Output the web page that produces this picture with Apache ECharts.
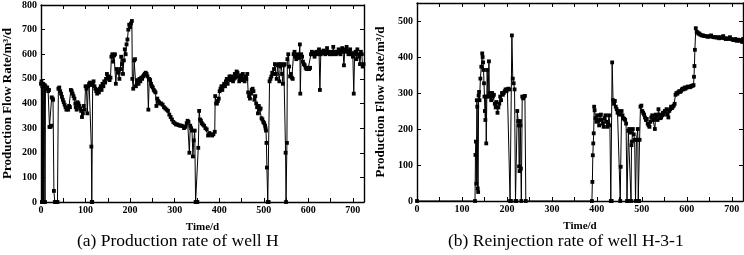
<!DOCTYPE html>
<html>
<head>
<meta charset="utf-8">
<script src="https://cdn.jsdelivr.net/npm/echarts@6/dist/echarts.min.js"></script>
<style>
html,body{margin:0;padding:0;background:#fff;}
#c{width:744px;height:255px;}
</style>
</head>
<body>
<div id="c"></div>
<script>
// ---- Data: (a) Production rate of well H ----
const daysA = [0,1,2,3,4,5,6,8,9,10,12,14,16,18,19,21,23,24,26,27,29,31,33,35,37,39,41,43,45,47,49,51,53,55,57,59,61,63,65,67,69,71,73,75,77,78,80,82,84,86,88,90,92,94,96,98,100,102,104,106,108,110,112,113,114,115,116,118,120,122,124,126,128,130,132,134,136,138,140,142,144,146,148,150,152,154,156,158,160,162,164,166,168,170,172,174,176,178,180,182,184,186,188,190,192,194,196,198,200,202,204,205,207,209,211,213,215,217,219,221,223,225,227,229,231,233,235,237,239,241,243,245,247,249,251,253,255,257,259,261,263,265,267,270,273,276,279,282,285,288,291,294,297,300,303,306,309,312,315,318,321,324,327,329,331,333,335,337,339,341,343,345,347,349,351,353,355,357,359,361,363,366,369,372,375,378,381,384,387,390,391,393,395,397,399,401,403,405,407,409,411,413,415,417,419,421,423,425,427,429,431,433,435,437,439,441,443,445,447,449,451,453,455,457,459,461,463,465,467,469,471,473,475,477,479,481,483,485,487,489,491,493,495,497,499,501,503,504,505,506,507,509,511,513,515,517,519,521,523,525,527,529,531,533,535,537,539,541,543,545,547,549,550,552,553,555,557,559,561,563,565,567,569,571,573,575,577,579,581,582,584,586,588,590,592,594,596,598,600,602,604,606,608,610,612,614,616,618,620,622,624,626,628,630,632,634,636,638,640,642,644,646,648,650,652,654,656,658,660,662,664,666,668,670,672,674,676,678,680,682,684,686,688,690,692,694,696,698,700,702,704,706,708,710,712,714,716,718,720,722,724];
const rateA = [480,490,0,470,0,480,0,475,0,470,460,465,450,455,305,305,310,425,420,415,45,0,0,0,0,460,465,450,440,427,415,405,395,385,375,380,375,390,385,455,450,440,430,420,400,385,375,405,400,390,380,370,345,360,390,375,470,460,360,470,480,485,475,225,0,0,480,490,470,460,450,440,455,445,460,470,455,480,470,490,485,500,520,505,510,495,505,590,600,570,595,600,480,540,530,525,500,540,590,560,520,575,620,600,640,660,700,720,710,725,735,500,460,575,580,470,480,495,480,500,490,505,500,510,515,520,525,520,510,375,500,495,480,470,465,455,450,445,390,420,410,405,400,400,395,385,380,375,370,355,345,335,325,320,315,315,312,310,310,308,300,305,320,330,325,200,310,300,290,185,250,290,0,0,0,220,370,335,330,320,315,310,300,295,270,280,275,270,275,285,430,400,400,410,420,450,460,470,455,470,480,470,490,500,480,500,510,495,510,505,490,500,520,505,530,525,510,490,500,515,495,520,500,490,510,500,520,445,430,420,440,455,460,450,415,430,400,385,360,390,375,380,340,335,325,320,310,300,290,240,140,0,0,490,500,510,525,520,540,560,520,500,555,560,490,550,560,520,480,555,560,200,0,240,580,600,550,510,520,505,500,600,610,590,580,600,595,585,640,440,600,590,570,560,555,545,540,540,545,540,545,600,610,600,605,590,605,610,600,610,620,455,600,610,605,615,610,600,605,625,610,605,600,610,605,600,630,610,605,600,610,605,620,610,600,615,625,610,555,620,610,630,615,600,610,620,600,605,590,440,600,610,580,620,600,590,560,610,600,550,560];

// ---- Data: (b) Reinjection rate of well H-3-1 ----
const daysB = [0,129,130,131,132,133,134,135,136,137,138,139,141,143,145,146,147,148,149,150,151,152,153,154,156,158,160,161,163,165,167,169,171,173,175,177,179,181,183,185,187,189,191,193,195,197,199,201,203,205,207,209,211,213,215,217,219,221,223,225,226,227,228,229,230,231,232,234,236,238,240,242,389,390,391,392,393,394,395,397,399,401,403,405,407,409,411,413,415,417,419,421,423,425,427,429,431,433,434,436,438,440,442,444,446,448,450,452,453,455,457,459,461,463,465,467,469,470,472,474,476,477,478,480,482,484,486,488,490,491,492,494,495,497,499,501,503,505,507,509,511,513,515,517,519,521,523,525,527,529,531,533,535,537,539,541,543,545,547,549,551,553,555,557,559,561,563,565,567,569,571,573,575,577,579,581,583,585,587,589,591,593,595,597,599,601,603,605,607,609,611,613,615,616,617,618,620,622,624,626,628,630,633,636,639,642,645,648,651,654,657,660,663,666,669,672,675,678,681,684,687,690,693,696,699,702,705,708,711,714,717,720,723,725];
const rateB = [0,0,128,165,48,280,262,35,25,293,303,280,340,373,410,400,385,364,327,290,250,225,290,160,364,290,388,300,290,280,300,290,295,270,260,275,245,260,270,290,280,300,295,300,305,310,305,310,312,310,0,0,460,340,327,310,0,0,250,222,210,96,83,222,210,90,0,290,285,290,292,0,0,53,127,160,188,262,252,230,220,238,225,210,238,240,225,215,206,230,238,220,206,215,238,210,0,0,385,280,270,278,262,255,245,250,240,0,95,250,238,230,228,225,215,0,0,195,200,190,0,155,165,200,185,170,0,170,170,200,0,0,170,262,265,250,245,240,232,225,228,215,210,206,220,232,238,225,230,200,240,235,225,255,240,230,232,238,245,240,250,248,255,240,232,250,255,262,258,262,265,270,295,300,298,302,305,303,305,310,312,310,315,312,315,316,318,317,316,318,320,320,322,345,375,420,480,470,468,465,465,462,460,460,458,458,457,456,458,460,456,455,455,454,455,452,455,453,458,452,450,452,450,455,450,448,447,450,445,448,445,447,442,450];

const xTicks = ['0','100','200','300','400','500','600','700'];
const captionA = '(a) Production rate of well H';
const captionB = '(b) Reinjection rate of well H-3-1';
const yName = 'Production Flow Rate/m³/d';
const xName = 'Time/d';

const zip = (xs, ys) => xs.map((x, i) => [x, ys[i]]);

const serif = '"Liberation Serif", "Times New Roman", serif';
const chart = echarts.init(document.getElementById('c'), null, {renderer: 'canvas'});

const lineStyleAx = {color: '#000', width: 1.4};
function xAxes(gi) {
  const base = {
    type: 'value', gridIndex: gi, min: 0, max: 725, interval: 100,
    axisLine: {show: true, onZero: false, lineStyle: lineStyleAx},
    axisTick: {show: true, inside: true, length: 4, lineStyle: {color: '#000', width: 1}},
    minorTick: {show: true, splitNumber: 2, length: 4, lineStyle: {color: '#000', width: 1}},
    splitLine: {show: false}, minorSplitLine: {show: false}
  };
  return [
    Object.assign({}, base, {
      position: 'bottom',
      name: xName, nameLocation: 'middle', nameGap: 20,
      nameTextStyle: {fontFamily: serif, fontWeight: 'bold', fontSize: 11, color: '#000'},
      axisLabel: {show: true, fontFamily: serif, fontWeight: 'bold', fontSize: 10, color: '#000', margin: 3,
        showMaxLabel: false, formatter: v => (v % 100 === 0 && xTicks[v / 100] !== undefined) ? xTicks[v / 100] : ''}
    }),
    Object.assign({}, base, {position: 'top', axisLabel: {show: false}})
  ];
}
function yAxes(gi, max, gap) {
  const base = {
    type: 'value', gridIndex: gi, min: 0, max: max, interval: 100,
    axisLine: {show: true, onZero: false, lineStyle: lineStyleAx},
    axisTick: {show: true, inside: true, length: 4, lineStyle: {color: '#000', width: 1}},
    splitLine: {show: false}
  };
  return [
    Object.assign({}, base, {
      position: 'left',
      name: yName, nameLocation: 'middle', nameGap: gap,
      nameTextStyle: {fontFamily: serif, fontWeight: 'bold', fontSize: 13, color: '#000'},
      axisLabel: {show: true, fontFamily: serif, fontWeight: 'bold', fontSize: 10, color: '#000', margin: 4, showMaxLabel: max % 100 === 0}
    }),
    Object.assign({}, base, {position: 'right', axisLabel: {show: false}})
  ];
}

const seriesStyle = {
  type: 'line',
  symbol: 'rect', symbolSize: 3.8,
  showAllSymbol: true,
  itemStyle: {color: '#000'},
  lineStyle: {color: '#000', width: 1},
  animation: false,
  clip: true
};

chart.setOption({
  backgroundColor: '#fff',
  animation: false,
  grid: [
    {left: 36, top: 3, width: 328, height: 199},
    {left: 417, top: 3, width: 326, height: 198}
  ],
  xAxis: [...xAxes(0), ...xAxes(1)],
  yAxis: [...yAxes(0, 800, 27), ...yAxes(1, 550, 30)],
  series: [
    Object.assign({}, seriesStyle, {xAxisIndex: 0, yAxisIndex: 0, data: zip(daysA, rateA)}),
    Object.assign({}, seriesStyle, {xAxisIndex: 2, yAxisIndex: 2, data: zip(daysB, rateB)})
  ],
  graphic: [
    {type: 'text', left: 77, top: 232, style: {text: captionA, font: '17.5px ' + serif, fill: '#000'}},
    {type: 'text', left: 448, top: 232, style: {text: captionB, font: '17.5px ' + serif, fill: '#000'}}
  ]
});
</script>
</body>
</html>
